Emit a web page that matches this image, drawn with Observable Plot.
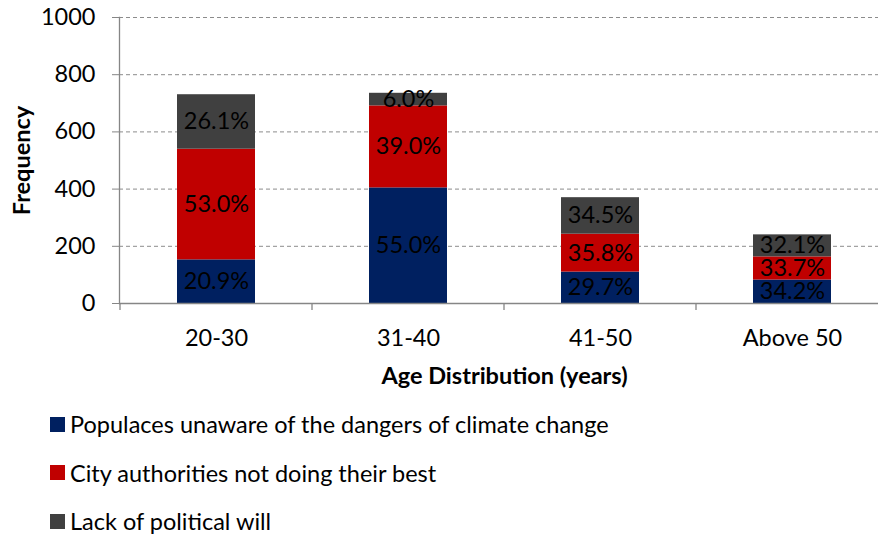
<!DOCTYPE html>
<html>
<head>
<meta charset="utf-8">
<script src="https://cdn.jsdelivr.net/npm/d3@7"></script>
<script src="https://cdn.jsdelivr.net/npm/@observablehq/plot@0.6"></script>
<style>
  html, body { margin: 0; padding: 0; background: #fff; }
  #wrap { width: 878px; height: 537px; overflow: hidden; position: relative; font-family: Lato, "Open Sans", sans-serif; }
  #chart svg { max-width: none !important; display: block; }
  #legend { margin-top: 10px; }
  .row { height: 48.5px; display: flex; align-items: center; font-size: 23.5px; color: #000; }
  .sw { width: 15px; height: 15px; margin-left: 50px; margin-right: 5px; flex: none; }
</style>
</head>
<body>
<div id="wrap">
  <div id="chart"></div>
  <div id="legend"></div>
</div>
<script>
// Age groups along the x axis
const ages = ["20-30", "31-40", "41-50", "Above 50"];
// Respondents per age group (height of each stacked bar)
const totals = [730, 735, 370, 240];
// Reasons given, bottom to top in each stack
const causes = [
  "Populaces unaware of the dangers of climate change",
  "City authorities not doing their best",
  "Lack of political will"
];
// Share of each age group giving each reason (%)
const pctUnaware   = [20.9, 55.0, 29.7, 34.2];
const pctCity      = [53.0, 39.0, 35.8, 33.7];
const pctPolitical = [26.1, 6.0, 34.5, 32.1];
const colors = ["#002060", "#C00000", "#404040"];
const yTicks = [0, 200, 400, 600, 800, 1000];

const shares = [pctUnaware, pctCity, pctPolitical];
const rows = [];
ages.forEach((age, i) => {
  causes.forEach((cause, j) => {
    const pct = shares[j][i];
    rows.push({age, cause, pct, freq: totals[i] * pct / 100});
  });
});

// Tick marks on the category boundaries, taken from the band scale
const boundaryTicks = (index, scales, values, dims) => {
  const x = scales.x;
  const gap = (x.step() - x.bandwidth()) / 2;
  const y0 = dims.height - dims.marginBottom;
  const g = d3.create("svg:g").attr("stroke", "#868686").attr("stroke-width", 1.3);
  const edges = ages.map(a => x(a) - gap).concat([x(ages[ages.length - 1]) + x.bandwidth() + gap]);
  for (const e of edges) {
    g.append("line").attr("x1", e).attr("x2", e).attr("y1", y0).attr("y2", y0 + 7);
  }
  return g.node();
};

const FS = 23.5;

const chart = Plot.plot({
  width: 889,
  height: 390,
  marginLeft: 119,
  marginRight: 0,
  marginTop: 17,
  marginBottom: 87,
  style: {fontFamily: "Lato, 'Open Sans', sans-serif", fontSize: FS + "px", color: "#000", background: "#fff"},
  x: {domain: ages, paddingInner: 0.595, paddingOuter: 0.2975},
  y: {domain: [0, 1000]},
  color: {domain: causes, range: colors},
  marks: [
    Plot.ruleY(yTicks.filter(d => d > 0), {stroke: "#8c8c8c", strokeWidth: 1, strokeDasharray: "4,3"}),
    Plot.barY(rows, Plot.stackY({x: "age", y: "freq", z: "cause", fill: "cause"})),
    Plot.text(rows, Plot.stackY({x: "age", y: "freq", z: "cause", text: d => d.pct.toFixed(1) + "%", fill: "#000", fontSize: FS})),
    Plot.ruleY([0], {stroke: "#868686", strokeWidth: 1.3}),
    Plot.frame({anchor: "left", stroke: "#868686", strokeWidth: 1.3}),
    boundaryTicks,
    Plot.axisY({ticks: yTicks, tickFormat: d => String(d), tickSize: 7, tickPadding: 17, stroke: "#868686", fontSize: FS,
      label: "Frequency", labelAnchor: "center", labelOffset: 106, labelArrow: "none"}),
    Plot.axisX({tickSize: 0, tickPadding: 26, fontSize: FS,
      label: "Age Distribution (years)", labelAnchor: "center", labelOffset: 80, labelArrow: "none"})
  ]
});
chart.style.maxWidth = "none";
d3.select("#chart").node().append(chart);

// Bold axis titles
d3.select(chart).selectAll("g[aria-label='y-axis label'] text, g[aria-label='x-axis label'] text")
  .attr("font-weight", "bold");

const legend = d3.select("#legend");
causes.forEach((c, j) => {
  const r = legend.append("div").attr("class", "row");
  r.append("div").attr("class", "sw").style("background", colors[j]);
  r.append("span").text(c);
});
</script>
</body>
</html>
